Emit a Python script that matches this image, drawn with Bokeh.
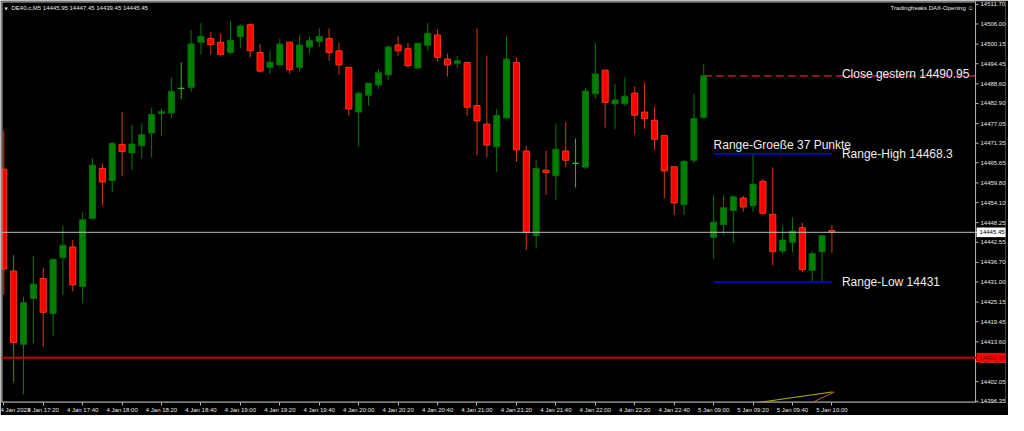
from bokeh.plotting import figure
from bokeh.models import ColumnDataSource, FixedTicker, NumeralTickFormatter, Span, Range1d
from bokeh.embed import file_html
from bokeh.resources import INLINE
from bokeh.core.properties import value

# ---------------- data ----------------
symbol = "DE40.c,M5"
indicator_name = "Tradingfreaks DAX-Opening \u263a"

open_ = [14463.8, 14434.2, 14412.9, 14426.2, 14432.0, 14421.8, 14438.1, 14441.2, 14429.7, 14449.5,
         14464.0, 14460.5, 14471.0, 14468.5, 14470.6, 14474.3, 14480.0, 14480.1, 14487.3, 14487.6,
         14500.7, 14501.8, 14500.7, 14497.7, 14502.3, 14505.8, 14497.7, 14493.4, 14494.1, 14500.7,
         14493.4, 14499.3, 14500.9, 14501.8, 14498.2, 14493.4, 14480.4, 14485.3, 14488.3, 14491.2,
         14499.9, 14498.8, 14493.2, 14499.8, 14502.8, 14495.8, 14494.6, 14494.8, 14482.3, 14476.9,
         14470.3, 14478.7, 14494.8, 14469.1, 14444.5, 14463.5, 14461.9, 14469.1, 14465.5, 14464.4,
         14485.7, 14492.6, 14482.8, 14482.8, 14485.9, 14480.4, 14478.0, 14473.6, 14464.5, 14453.5,
         14466.4, 14478.8, 14444.0, 14447.7, 14451.8, 14455.4, 14453.2, 14460.3, 14450.7, 14440.0,
         14442.6, 14446.8, 14434.4, 14439.8, 14445.95]
high = [14475.0, 14438.8, 14426.7, 14438.6, 14435.1, 14437.6, 14447.4, 14443.2, 14451.2, 14466.9,
        14465.5, 14471.7, 14480.4, 14476.7, 14477.2, 14481.7, 14481.4, 14490.4, 14494.9, 14504.2,
        14506.2, 14503.7, 14503.3, 14506.8, 14505.9, 14506.2, 14500.2, 14498.2, 14501.8, 14500.9,
        14502.8, 14502.4, 14504.7, 14504.7, 14500.5, 14493.6, 14486.5, 14488.8, 14492.9, 14499.9,
        14502.4, 14500.5, 14500.4, 14506.3, 14504.4, 14497.4, 14496.8, 14494.9, 14504.7, 14496.8,
        14481.4, 14502.4, 14496.3, 14470.5, 14466.4, 14469.1, 14477.1, 14477.5, 14472.7, 14487.4,
        14500.5, 14492.7, 14488.5, 14490.4, 14487.9, 14489.0, 14482.0, 14473.7, 14464.6, 14466.4,
        14485.6, 14494.4, 14456.3, 14456.3, 14455.9, 14456.1, 14468.3, 14461.0, 14464.3, 14447.3,
        14449.8, 14448.2, 14439.9, 14444.5, 14447.45]
low = [14427.4, 14401.9, 14398.4, 14413.2, 14412.2, 14415.4, 14427.2, 14428.3, 14424.8, 14449.5,
       14453.2, 14457.1, 14461.7, 14463.6, 14466.8, 14467.2, 14473.4, 14478.7, 14484.2, 14486.2,
       14497.1, 14497.1, 14496.8, 14497.2, 14499.1, 14496.3, 14492.0, 14491.6, 14494.0, 14491.6,
       14492.3, 14497.4, 14499.3, 14495.3, 14491.2, 14479.4, 14470.3, 14482.3, 14487.1, 14489.8,
       14496.8, 14493.2, 14493.0, 14498.2, 14495.1, 14490.7, 14493.2, 14479.2, 14467.8, 14467.2,
       14462.9, 14478.6, 14465.9, 14440.3, 14440.7, 14456.3, 14454.9, 14464.4, 14458.5, 14463.8,
       14484.3, 14475.9, 14475.5, 14482.2, 14473.9, 14475.5, 14469.4, 14455.4, 14450.5, 14450.5,
       14465.5, 14478.5, 14437.8, 14444.8, 14442.3, 14451.4, 14451.4, 14450.5, 14435.8, 14439.2,
       14439.7, 14433.9, 14431.0, 14431.2, 14439.45]
close = [14434.8, 14413.4, 14425.0, 14430.4, 14422.2, 14437.6, 14441.7, 14430.2, 14449.1, 14465.0,
         14460.1, 14471.3, 14468.9, 14471.1, 14473.8, 14479.7, 14480.5, 14486.4, 14487.3, 14500.2,
         14502.4, 14500.0, 14497.2, 14501.2, 14505.4, 14498.2, 14492.3, 14494.9, 14500.2, 14492.7,
         14499.9, 14501.2, 14502.4, 14497.7, 14494.1, 14481.3, 14485.9, 14488.8, 14491.8, 14499.3,
         14498.2, 14493.9, 14500.4, 14503.3, 14496.3, 14494.1, 14495.3, 14481.8, 14477.8, 14470.8,
         14479.4, 14495.8, 14469.4, 14445.4, 14464.0, 14462.8, 14469.6, 14466.4, 14465.5, 14486.5,
         14491.5, 14483.2, 14483.9, 14485.0, 14479.5, 14478.5, 14472.5, 14463.3, 14454.0, 14466.1,
         14478.5, 14490.95, 14448.4, 14452.6, 14455.8, 14452.8, 14459.4, 14451.0, 14439.8, 14443.2,
         14445.8, 14434.6, 14439.3, 14444.5, 14445.45]

x_tick_labels = ["4 Jan 2023", "4 Jan 17:20", "4 Jan 17:40", "4 Jan 18:00", "4 Jan 18:20",
                 "4 Jan 18:40", "4 Jan 19:00", "4 Jan 19:20", "4 Jan 19:40", "4 Jan 20:00",
                 "4 Jan 20:20", "4 Jan 20:40", "4 Jan 21:00", "4 Jan 21:20", "4 Jan 21:40",
                 "4 Jan 22:00", "4 Jan 22:20", "4 Jan 22:40", "5 Jan 09:00", "5 Jan 09:20",
                 "5 Jan 09:40", "5 Jan 10:00"]
bars_per_label = 4

y_ticks = [14511.70, 14506.00, 14500.15, 14494.45, 14488.60, 14482.90, 14477.05, 14471.35,
           14465.65, 14459.80, 14454.10, 14448.25, 14442.55, 14436.70, 14431.00, 14425.15,
           14419.45, 14413.60, 14407.90, 14402.05, 14396.35]

close_yesterday = 14490.95
close_line_from = 71
range_high = 14468.3
range_low = 14431.0
range_from, range_to = 72, 84
red_level = 14409.00

trend_yellow_x = [76.6, 84.07]
trend_yellow_y = [14396.0, 14399.06]
trend_brown_x = [82.0, 84.27]
trend_brown_y = [14396.0, 14399.06]

# ---------------- geometry ----------------
W, H = 1008, 415
B_LEFT, B_TOP, B_RIGHT, B_BOTTOM = 1, 1, 1, 12
FRAME_W = W - B_LEFT - B_RIGHT
CHART_W = 976                       # width of the candle area; price scale follows
x_start, x_axis = -0.23, 98.57      # visible bar span of the candle area
PX_PER_BAR = CHART_W / (x_axis - x_start)
x_end = x_start + FRAME_W / PX_PER_BAR
xr = Range1d(x_start, x_end)
yr = Range1d(14395.98, 14512.54)

FONT = "Liberation Sans"
AX_FS = "6px"
GREY = "#B4B4B4"

p = figure(width=W, height=H, x_range=xr, y_range=yr, output_backend="svg",
           toolbar_location=None, y_axis_location="right",
           min_border_left=B_LEFT, min_border_top=B_TOP, min_border_right=B_RIGHT,
           min_border_bottom=B_BOTTOM,
           background_fill_color="black", border_fill_color="black")
p.xgrid.visible = False
p.ygrid.visible = False
p.outline_line_color = None

# time axis
xa = p.xaxis[0]
ticks = [i * bars_per_label for i in range(len(x_tick_labels))]
xa.ticker = FixedTicker(ticks=ticks)
xa.major_label_overrides = {t: lab for t, lab in zip(ticks, x_tick_labels)}
xa.major_label_text_align = "left"
xa.major_label_text_font = FONT
xa.major_label_text_font_size = AX_FS
xa.major_label_text_color = "#E6E6E6"
xa.major_label_standoff = 1
xa.major_tick_in = 0
xa.major_tick_out = 3
xa.minor_tick_out = 0
xa.minor_tick_in = 0
xa.axis_line_color = None
xa.major_tick_line_color = GREY

# price axis: labels drawn into the price-scale strip at the right of the frame
ya = p.yaxis[0]
ya.ticker = FixedTicker(ticks=y_ticks)
ya.formatter = NumeralTickFormatter(format="0.00")
ya.major_label_text_font = FONT
ya.major_label_text_font_size = AX_FS
ya.major_label_text_color = "#E6E6E6"
ya.major_label_text_align = "left"
ya.major_label_standoff = -(FRAME_W - CHART_W - 5)
ya.major_tick_in = 0
ya.major_tick_out = 0
ya.minor_tick_out = 0
ya.minor_tick_in = 0
ya.axis_line_color = None
ya.major_tick_line_color = None

# frame lines of the candle area and the price scale line
p.add_layout(Span(location=x_start, dimension="height", line_color=GREY, line_width=2))
p.segment(x0=[x_start], y0=[yr.end], x1=[x_axis], y1=[yr.end], line_color=GREY, line_width=2)
p.segment(x0=[x_start], y0=[yr.start], x1=[x_axis], y1=[yr.start], line_color=GREY, line_width=2)
p.add_layout(Span(location=x_axis, dimension="height", line_color=GREY, line_width=1))
tick_len = 3 / PX_PER_BAR
p.segment(x0=[x_axis] * len(y_ticks), y0=y_ticks, x1=[x_axis + tick_len] * len(y_ticks),
          y1=y_ticks, line_color=GREY, line_width=1)

# horizontal levels
bid = close[-1]
p.add_layout(Span(location=bid, dimension="width", line_color="#BEBEBE", line_width=1))
p.add_layout(Span(location=red_level, dimension="width", line_color="#C40000", line_width=2))

# close yesterday dashed line
p.segment(x0=[close_line_from], y0=[close_yesterday], x1=[x_axis], y1=[close_yesterday],
          line_color="#DC1E64", line_width=1.2, line_dash="8 4")

# trend lines at bottom
p.line(trend_yellow_x, trend_yellow_y, line_color="#B4B400", line_width=1)
p.line(trend_brown_x, trend_brown_y, line_color="#B4641E", line_width=1)

# candles
idx = list(range(len(open_)))
def pick(cond):
    ii = [i for i in idx if cond(i)]
    return ColumnDataSource(dict(
        x=ii, o=[open_[i] for i in ii], c=[close[i] for i in ii],
        h=[high[i] for i in ii], l=[low[i] for i in ii],
        top=[max(open_[i], close[i]) for i in ii], bot=[min(open_[i], close[i]) for i in ii]))

up = pick(lambda i: close[i] > open_[i])
dn = pick(lambda i: close[i] < open_[i])
dj = pick(lambda i: close[i] == open_[i])

p.segment(x0="x", y0="l", x1="x", y1="h", source=up, line_color="#0A780A", line_width=1)
p.segment(x0="x", y0="l", x1="x", y1="h", source=dn, line_color="#D23C14", line_width=1)
p.segment(x0="x", y0="l", x1="x", y1="h", source=dj, line_color="#1EC81E", line_width=1)
p.vbar(x="x", width=0.62, top="top", bottom="bot", source=up,
       fill_color="#008000", line_color="#0A6A0A", line_width=1)
p.vbar(x="x", width=0.62, top="top", bottom="bot", source=dn,
       fill_color="#FF0000", line_color="#F03C10", line_width=1)
p.rect(x="x", y="o", width=0.62, height=0.01, source=dj, fill_color="#1EC81E",
       line_color="#1EC81E", line_width=1)

# range lines
p.segment(x0=[range_from, range_from], y0=[range_high, range_low],
          x1=[range_to, range_to], y1=[range_high, range_low],
          line_color="#0000FF", line_width=1.5)

TXT = dict(text_font=value(FONT), text_font_size="12px", text_color="#EEEEEE")
p.text(x=[range_to], y=[close_yesterday], text=[f"Close gestern {close_yesterday:.2f}"],
       x_offset=10, y_offset=-2, text_baseline="alphabetic", **TXT)
p.text(x=[range_to], y=[range_high], text=[f"Range-High {range_high:g}"],
       x_offset=10, text_baseline="middle", **TXT)
p.text(x=[range_to], y=[range_low], text=[f"Range-Low {range_low:g}"],
       x_offset=10, text_baseline="middle", **TXT)
p.text(x=[range_from], y=[range_high], text=[f"Range-Groeße {round(range_high - range_low)} Punkte"],
       y_offset=-9, text_baseline="alphabetic", **TXT)

# header texts
HDR = dict(text_font=value(FONT), text_font_size=AX_FS, text_color="#E6E6E6")
header = f"{symbol}  {open_[-1]:.2f} {high[-1]:.2f} {low[-1]:.2f} {close[-1]:.2f}"
p.text(x=[x_start], y=[yr.end], text=["\u25bc"], x_offset=3, y_offset=4,
       text_baseline="top", text_font=value("DejaVu Sans"), text_font_size="4px", text_color="#E6E6E6")
p.text(x=[x_start], y=[yr.end], text=[header], x_offset=10, y_offset=3,
       text_baseline="top", **HDR)
p.text(x=[x_axis], y=[yr.end], text=[indicator_name], x_offset=-2, y_offset=3,
       text_baseline="top", text_align="right", **HDR)

# price boxes on the price scale (drawn above the axis labels)
box_h = 2.8
box_levels = [bid, red_level]
p.hbar(y=box_levels, left=[x_axis + 1 / PX_PER_BAR] * 2, right=[x_end] * 2, height=box_h,
       fill_color=["#FFFFFF", "#FF0000"], line_color=None, level="overlay")
p.text(x=[x_axis] * 2, y=box_levels, text=[f"{v:.2f}" for v in box_levels], x_offset=4,
       text_baseline="middle", text_color=["#000000", "#700000"],
       text_font=value(FONT), text_font_size=AX_FS, level="overlay")

open("out.html", "w").write(file_html(p, INLINE))
